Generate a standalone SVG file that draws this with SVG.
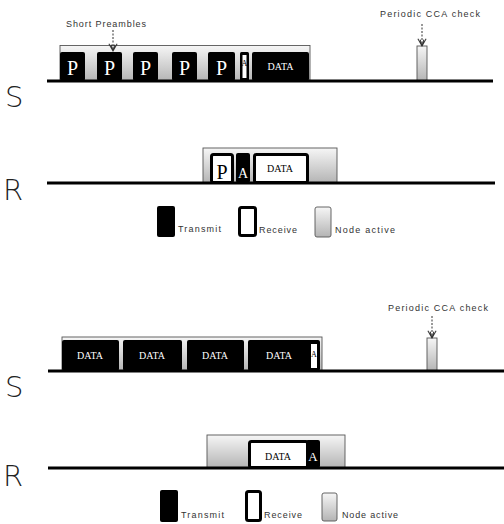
<svg xmlns="http://www.w3.org/2000/svg" width="504" height="524" viewBox="0 0 504 524">
  <defs>
    <linearGradient id="active" x1="0" y1="0" x2="0" y2="1">
      <stop offset="0" stop-color="#f6f6f6"/>
      <stop offset="1" stop-color="#b4b4b4"/>
    </linearGradient>
    <!-- open chevron head, drawn along +x so orient="auto" follows the line -->
    <marker id="dash-head" viewBox="0 0 12 12" refX="11" refY="6" markerWidth="11" markerHeight="11" orient="auto" markerUnits="userSpaceOnUse">
      <path d="M3 1.5 L11 6 L3 10.5 M11 6 L4 4 M11 6 L4 8" fill="none" stroke="#333" stroke-width="1.1"/>
    </marker>
    <filter id="soft" x="-5%" y="-50%" width="110%" height="300%">
      <feGaussianBlur stdDeviation="1.2"/>
    </filter>
  </defs>
  <style>
    .active { fill: url(#active); stroke: #555; stroke-width: 0.9; }
    .tx { fill: #000; }
    .rx { fill: #fff; stroke: #000; stroke-width: 3; }
    .axis { stroke: #000; stroke-width: 3; }
    .shadow { stroke: #999; stroke-width: 3; filter: url(#soft); }
    .lane { font-family: "DejaVu Sans", "Liberation Sans", sans-serif; font-weight: 200; font-size: 29px; fill: #222; }
    .big { font-family: "Liberation Serif", serif; font-size: 20px; }
    .small { font-family: "Liberation Serif", serif; font-size: 10px; }
    .note { font-family: "Liberation Sans", sans-serif; font-size: 9px; fill: #333; }
    .pointer { stroke: #333; stroke-width: 1; stroke-dasharray: 2 1.5; fill: none; }
  </style>

  <!-- soft shadows under the time axes -->
  <g id="axis-shadows">
    <line class="shadow" x1="48" y1="84" x2="493" y2="84"/>
    <line class="shadow" x1="48" y1="186" x2="495" y2="186"/>
    <line class="shadow" x1="48" y1="374" x2="504" y2="374"/>
    <line class="shadow" x1="48" y1="471" x2="504" y2="471"/>
  </g>

  <!-- scenario 1: sender with short preambles -->
  <g id="s1-active">
    <rect class="active" x="60" y="45.5" width="250" height="36"/>
  </g>
  <g id="s1-preambles">
    <rect class="tx" x="60" y="52" width="25" height="29" rx="2"/>
    <rect class="tx" x="97" y="52" width="25" height="29" rx="2"/>
    <rect class="tx" x="133" y="52" width="25" height="29" rx="2"/>
    <rect class="tx" x="172" y="52" width="25" height="29" rx="2"/>
    <rect class="tx" x="208" y="52" width="27" height="29" rx="2"/>
    <text class="big" x="72.5" y="75" fill="#fff" text-anchor="middle">P</text>
    <text class="big" x="109.5" y="75" fill="#fff" text-anchor="middle">P</text>
    <text class="big" x="145.5" y="75" fill="#fff" text-anchor="middle">P</text>
    <text class="big" x="184.5" y="75" fill="#fff" text-anchor="middle">P</text>
    <text class="big" x="221.5" y="75" fill="#fff" text-anchor="middle">P</text>
  </g>
  <g id="s1-ack">
    <rect class="tx" x="240" y="52" width="9" height="29" rx="1.5"/>
    <rect x="242.5" y="55" width="4" height="23" fill="#fff"/>
    <text x="244.5" y="66" font-family="Liberation Serif, serif" font-size="8" fill="#000" text-anchor="middle">A</text>
  </g>
  <g id="s1-data">
    <rect class="tx" x="252" y="52" width="57" height="29" rx="2"/>
    <text class="small" x="280.5" y="70" fill="#fff" text-anchor="middle">DATA</text>
  </g>
  <g id="s1-cca">
    <rect class="active" x="417" y="46" width="10" height="35"/>
    <text class="note" x="380" y="17" textLength="100">Periodic CCA check</text>
  </g>
  <text class="note" x="66" y="27" textLength="80">Short Preambles</text>
  <g id="s1-sender-axis">
    <line class="axis" x1="47" y1="81" x2="493" y2="81"/>
    <text class="lane" x="5" y="107">S</text>
  </g>

  <!-- scenario 1: receiver -->
  <g id="r1-active">
    <rect class="active" x="203" y="148" width="134" height="35"/>
  </g>
  <g id="r1-frames">
    <rect class="rx" x="211.5" y="154.5" width="21" height="28" rx="2"/>
    <text class="big" x="222" y="179" fill="#000" text-anchor="middle" font-size="22">P</text>
    <rect class="tx" x="236" y="153" width="14" height="30" rx="2"/>
    <text x="243" y="178" font-family="Liberation Serif, serif" font-size="14" fill="#fff" text-anchor="middle">A</text>
    <rect class="rx" x="254.5" y="154.5" width="53" height="28" rx="2"/>
    <text class="small" x="280" y="172" fill="#000" text-anchor="middle">DATA</text>
  </g>
  <g id="r1-receiver-axis">
    <line class="axis" x1="47" y1="183" x2="495" y2="183"/>
    <text class="lane" x="3" y="200">R</text>
  </g>
  <g id="legend1">
    <rect class="tx" x="157" y="206" width="18" height="31" rx="2"/>
    <text class="note" x="178" y="232" textLength="43">Transmit</text>
    <rect class="rx" x="239.5" y="207.5" width="16" height="28" rx="2"/>
    <text class="note" x="259" y="233" textLength="38">Receive</text>
    <rect class="active" x="315" y="207" width="16" height="30" rx="2"/>
    <text class="note" x="335" y="233" textLength="60">Node active</text>
  </g>

  <!-- scenario 2: sender with data repetitions -->
  <g id="s2-active">
    <rect class="active" x="62" y="337" width="260" height="34"/>
  </g>
  <g id="s2-data">
    <rect class="tx" x="62" y="340" width="57" height="31" rx="2"/>
    <rect class="tx" x="123" y="340" width="59" height="31" rx="2"/>
    <rect class="tx" x="187" y="340" width="57" height="31" rx="2"/>
    <rect class="tx" x="248" y="340" width="72" height="31" rx="2"/>
    <text class="small" x="90" y="359" fill="#fff" text-anchor="middle" font-size="10.5">DATA</text>
    <text class="small" x="152" y="359" fill="#fff" text-anchor="middle" font-size="10.5">DATA</text>
    <text class="small" x="215" y="359" fill="#fff" text-anchor="middle" font-size="10.5">DATA</text>
    <text class="small" x="279" y="359" fill="#fff" text-anchor="middle" font-size="10.5">DATA</text>
  </g>
  <g id="s2-ack">
    <rect x="311" y="344" width="6" height="24" fill="#fff"/>
    <text x="314" y="357" font-family="Liberation Serif, serif" font-size="8" fill="#000" text-anchor="middle">A</text>
  </g>
  <g id="s2-cca">
    <rect class="active" x="427" y="338" width="10" height="33"/>
    <text class="note" x="388" y="311" textLength="100">Periodic CCA check</text>
  </g>
  <g id="s2-sender-axis">
    <line class="axis" x1="48" y1="371" x2="504" y2="371"/>
    <text class="lane" x="5" y="397">S</text>
  </g>

  <!-- scenario 2: receiver -->
  <g id="r2-active">
    <rect class="active" x="207" y="435" width="138" height="33"/>
  </g>
  <g id="r2-frames">
    <rect class="rx" x="249.5" y="441.5" width="58" height="26" rx="2"/>
    <text class="small" x="278" y="460" fill="#000" text-anchor="middle" font-size="11.5">DATA</text>
    <rect class="tx" x="306" y="440" width="14" height="28" rx="2"/>
    <text x="313" y="461" font-family="Liberation Serif, serif" font-size="13" fill="#fff" text-anchor="middle">A</text>
  </g>
  <g id="r2-receiver-axis">
    <line class="axis" x1="48" y1="468" x2="504" y2="468"/>
    <text class="lane" x="3" y="486">R</text>
  </g>
  <g id="legend2">
    <rect class="tx" x="160" y="490" width="18" height="32" rx="2"/>
    <text class="note" x="181" y="518" textLength="43">Transmit</text>
    <rect class="rx" x="246.5" y="491.5" width="14" height="29" rx="2"/>
    <text class="note" x="264" y="518" textLength="38">Receive</text>
    <rect class="active" x="322" y="493" width="15" height="28" rx="2"/>
    <text class="note" x="342" y="518" textLength="56">Node active</text>
  </g>

  <!-- dashed pointers from the annotations -->
  <g id="connectors">
    <line class="pointer" x1="113" y1="30" x2="113" y2="51" marker-end="url(#dash-head)"/>
    <line class="pointer" x1="422" y1="24" x2="422" y2="46" marker-end="url(#dash-head)"/>
    <line class="pointer" x1="432" y1="316" x2="432" y2="338" marker-end="url(#dash-head)"/>
  </g>
</svg>
